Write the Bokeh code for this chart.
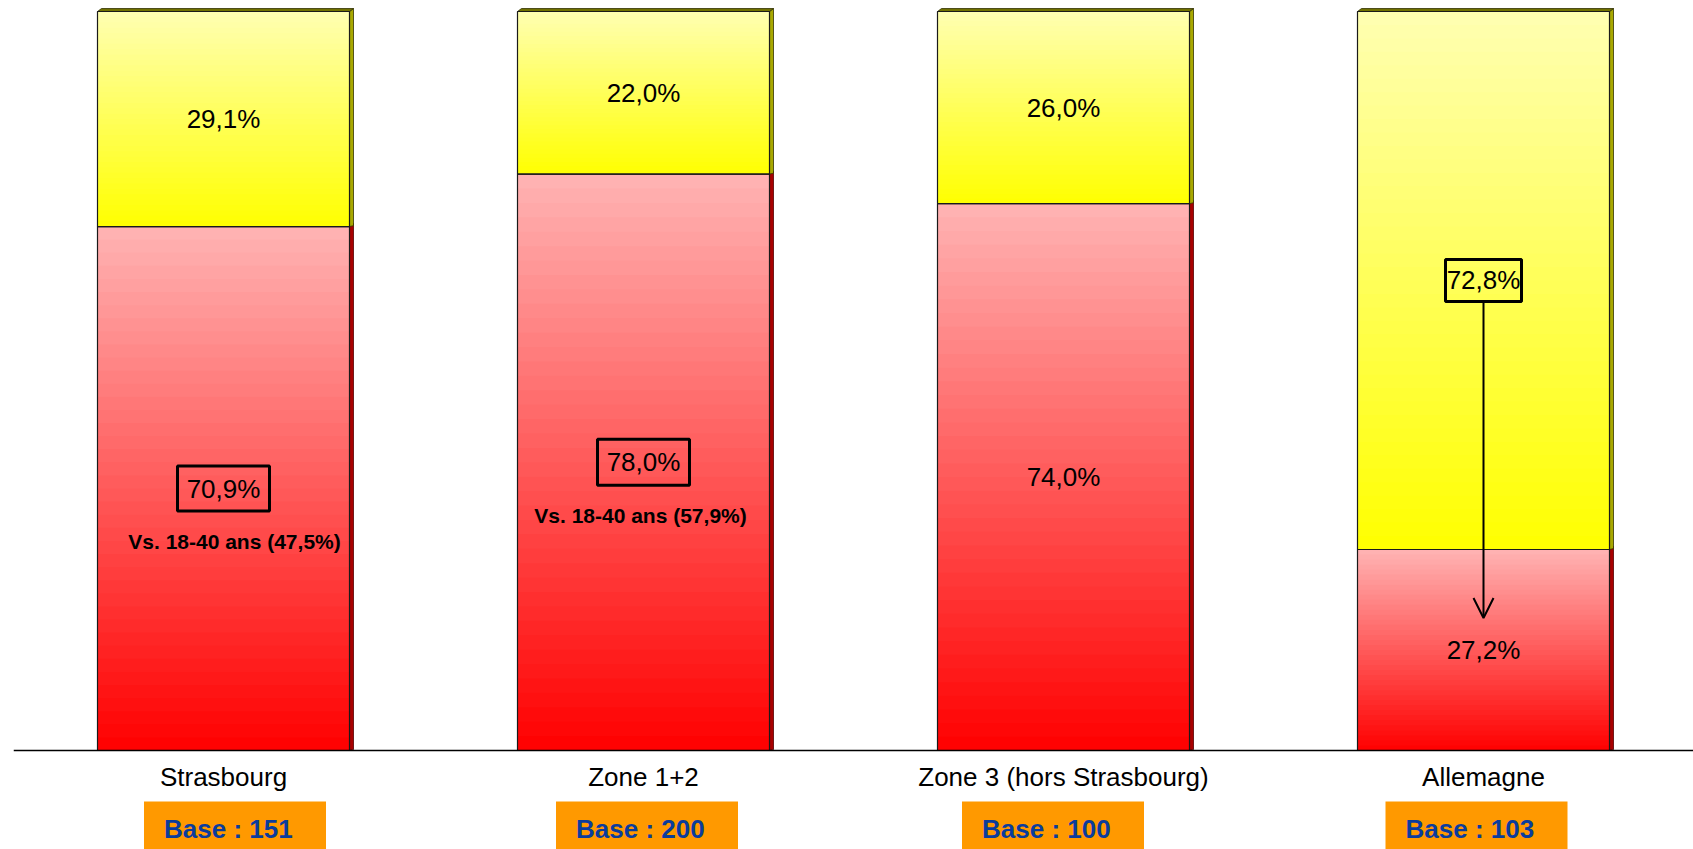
import numpy as np
from bokeh.plotting import figure
from bokeh.models import FactorRange, Range1d, Arrow, OpenHead
from bokeh.embed import file_html
from bokeh.resources import INLINE
from bokeh.core.properties import value

# ---------------- data ----------------
categories = ["Strasbourg", "Zone 1+2", "Zone 3 (hors Strasbourg)", "Allemagne"]
red_values = [70.9, 78.0, 74.0, 27.2]        # lower (red) segment, %
yellow_values = [29.1, 22.0, 26.0, 72.8]     # upper (yellow) segment, %
bases = [151, 200, 100, 103]
notes = ["Vs. 18-40 ans (47,5%)", "Vs. 18-40 ans (57,9%)", "", ""]
boxed = [("red", 0), ("red", 1), ("yellow", 3)]   # labels framed by a box

# ---------------- layout / style ----------------
W, H = 1693, 849
LEFT_BORDER = 13
FONT = value("Liberation Sans")
PX_X = (W - LEFT_BORDER) / 4.0   # px per category unit
PX_Y = 7.39                      # px per % unit
Y1 = 100 + 11 / PX_Y
Y0 = Y1 - H / PX_Y
HALF = 0.30                      # half bar width (category units)
DX, DY = 4 / PX_X, 3 / PX_Y      # 3D depth
NB = 40                          # gradient bands
box_size = {0: (92, 45), 1: (92, 46), 3: (76, 42)}
note_dx = [11, -3, 0, 0]
base_box_dx = [11.5, 3.5, -10.5, -7]

def fmt(v):
    return f"{v:.1f}".replace(".", ",") + "%"

def lerp(c0, c1, t):
    return "#%02x%02x%02x" % tuple(int(round(a + (b - a) * t)) for a, b in zip(c0, c1))

YEL_TOP, YEL_BOT = (255, 255, 178), (255, 255, 0)
RED_TOP, RED_BOT = (255, 180, 180), (255, 0, 0)

p = figure(width=W, height=H, x_range=FactorRange(factors=categories, range_padding=0),
           y_range=Range1d(Y0, Y1), output_backend="svg", toolbar_location=None,
           y_axis_location=None, min_border_left=LEFT_BORDER, min_border_right=0,
           min_border_top=0, min_border_bottom=0)
p.outline_line_color = None
p.grid.visible = False
p.background_fill_color = "white"

xc = np.arange(len(categories)) + 0.5
red = np.array(red_values)
yel = np.array(yellow_values)
seg_bottoms = {"red": np.zeros(len(red)), "yellow": red}
seg_tops = {"red": red, "yellow": red + yel}
grad = {"red": (RED_BOT, RED_TOP), "yellow": (YEL_BOT, YEL_TOP)}
side_col = {"red": "#a80000", "yellow": "#a8a800"}

# gradient bands
L, R, B, T, C = [], [], [], [], []
for seg in ("red", "yellow"):
    c_bot, c_top = grad[seg]
    for i in range(len(categories)):
        b, t = seg_bottoms[seg][i], seg_tops[seg][i]
        h = (t - b) / NB
        for k in range(NB):
            L.append(xc[i] - HALF); R.append(xc[i] + HALF)
            B.append(b + k * h); T.append(min(b + (k + 1) * h + h * 0.3, t))
            C.append(lerp(c_bot, c_top, (k + 0.5) / NB))
p.quad(left=L, right=R, bottom=B, top=T, fill_color=C, line_color=None)

# 3D side faces
for seg in ("red", "yellow"):
    xs, ys = [], []
    for i in range(len(categories)):
        b, t = seg_bottoms[seg][i], seg_tops[seg][i]
        r = xc[i] + HALF
        xs.append([r, r + DX, r + DX, r])
        ys.append([b, b + DY * 0.3, t + DY, t])
    p.patches(xs, ys, fill_color=side_col[seg], line_color="#333300" if seg == "yellow" else "#550000",
              line_width=0.8)
# top faces
tops = red + yel
p.patches([[x - HALF, x - HALF + DX, x + HALF + DX, x + HALF] for x in xc],
          [[t, t + DY, t + DY, t] for t in tops],
          fill_color="#707000", line_color="#333300", line_width=0.8)

# segment outlines
for seg in ("red", "yellow"):
    p.quad(left=xc - HALF, right=xc + HALF, bottom=seg_bottoms[seg], top=seg_tops[seg],
           fill_color=None, line_color="#1a1a1a", line_width=1.2)

# value labels
lab_x, lab_y, lab_t = [], [], []
for seg in ("red", "yellow"):
    vals = red if seg == "red" else yel
    for i in range(len(categories)):
        lab_x.append(xc[i])
        lab_y.append((seg_bottoms[seg][i] + seg_tops[seg][i]) / 2)
        lab_t.append(fmt(vals[i]))
p.text(x=lab_x, y=lab_y, text=lab_t, text_align="center", text_baseline="middle",
       text_font=FONT, text_font_size="26px", text_color="black")

# boxes around highlighted labels
bx, by, bw, bh = [], [], [], []
for seg, i in boxed:
    bx.append(xc[i]); by.append((seg_bottoms[seg][i] + seg_tops[seg][i]) / 2)
    bw.append(box_size[i][0]); bh.append(box_size[i][1])
p.rect(x=bx, y=by, width=bw, height=bh, width_units="screen", height_units="screen",
       fill_color=None, line_color="black", line_width=3)

# comparison notes
ni = [i for i, n in enumerate(notes) if n]
p.text(x=[xc[i] + note_dx[i] / PX_X for i in ni],
       y=[red[i] / 2 - 53 / PX_Y for i in ni],
       text=[notes[i] for i in ni], text_align="center", text_baseline="middle",
       text_font=FONT, text_font_size="21px", text_font_style="bold", text_color="black")

# arrow in Allemagne: from 72,8% box down to 27,2%
i = 3
y_from = (red[i] + red[i] + yel[i]) / 2 - (box_size[i][1] / 2) / PX_Y
y_to = red[i] / 2 + 32 / PX_Y
p.add_layout(Arrow(end=OpenHead(size=20, line_width=2, line_color="black"),
                   x_start=xc[i], y_start=y_from, x_end=xc[i], y_end=y_to,
                   line_width=2, line_color="black"))

# base boxes
bw_u = 182 / PX_X
bl = [xc[k] + base_box_dx[k] / PX_X - bw_u / 2 for k in range(len(categories))]
p.quad(left=bl, right=[v + bw_u for v in bl], bottom=[Y0 - 5] * len(bl), top=[-51 / PX_Y] * len(bl),
       fill_color="#ff9900", line_color=None)
p.text(x=[v + 20 / PX_X for v in bl], y=[-78 / PX_Y] * len(bl),
       text=[f"Base : {b}" for b in bases], text_align="left", text_baseline="middle",
       text_font=FONT, text_font_size="26px", text_font_style="bold", text_color="#0b3c9c")

# category axis at baseline
ax = p.xaxis[0]
ax.fixed_location = 0
ax.axis_line_color = "black"
ax.axis_line_width = 1.5
ax.major_tick_line_color = None
ax.minor_tick_line_color = None
ax.major_tick_out = 0
ax.major_label_standoff = 11
ax.major_label_text_font = "Liberation Sans"
ax.major_label_text_font_size = "26px"
ax.major_label_text_color = "black"

open("out.html", "w").write(file_html(p, INLINE))
